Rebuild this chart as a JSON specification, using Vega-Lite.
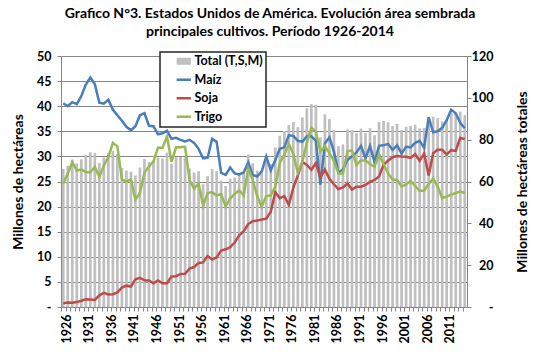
{
  "$schema": "https://vega.github.io/schema/vega-lite/v6.json",
  "width": 406,
  "height": 251,
  "autosize": {"type": "none"},
  "padding": {"left": 61, "top": 56, "right": 71, "bottom": 45},
  "background": "white",
  "config": {
    "font": "Lato",
    "view": {"stroke": null},
    "axis": {"labelColor": "black", "titleColor": "black", "labelFontWeight": "bold", "titleFontWeight": "bold", "domainColor": "#868686", "tickColor": "#868686", "gridColor": "#868686", "gridWidth": 1},
    "legend": {
      "orient": "none", "legendX": 99, "legendY": -4,
      "padding": 3, "symbolOffset": 14.5, "labelOffset": 4.5, "rowPadding": 5.5,
      "symbolSize": 121, "labelFontSize": 12.5, "labelFontWeight": "bold", "labelColor": "black",
      "fillColor": "white", "strokeColor": "#262626"
    }
  },
  "title": {
    "text": ["Grafico N°3. Estados Unidos de América. Evolución área sembrada", "principales cultivos. Período 1926-2014"],
    "font": "Lato", "fontSize": 14, "fontWeight": "bold", "color": "black",
    "anchor": "middle", "offset": 11, "dx": 6, "lineHeight": 18
  },
  "data": {"values": [
    {"year": 1926, "Maíz": 40.6, "Soja": 0.76, "Trigo": 24.6, "total": 66.0},
    {"year": 1927, "Maíz": 40.0, "Soja": 0.89, "Trigo": 26.6, "total": 67.5},
    {"year": 1928, "Maíz": 40.8, "Soja": 0.87, "Trigo": 28.8, "total": 70.5},
    {"year": 1929, "Maíz": 40.4, "Soja": 0.98, "Trigo": 27.2, "total": 68.6},
    {"year": 1930, "Maíz": 42.0, "Soja": 1.24, "Trigo": 27.4, "total": 70.6},
    {"year": 1931, "Maíz": 44.3, "Soja": 1.55, "Trigo": 26.9, "total": 72.8},
    {"year": 1932, "Maíz": 45.7, "Soja": 1.50, "Trigo": 26.8, "total": 74.0},
    {"year": 1933, "Maíz": 44.4, "Soja": 1.42, "Trigo": 27.9, "total": 73.7},
    {"year": 1934, "Maíz": 40.7, "Soja": 2.33, "Trigo": 25.9, "total": 68.9},
    {"year": 1935, "Maíz": 40.5, "Soja": 2.82, "Trigo": 28.2, "total": 71.5},
    {"year": 1936, "Maíz": 41.3, "Soja": 2.49, "Trigo": 29.9, "total": 73.7},
    {"year": 1937, "Maíz": 39.3, "Soja": 2.56, "Trigo": 32.7, "total": 74.6},
    {"year": 1938, "Maíz": 38.2, "Soja": 2.91, "Trigo": 32.0, "total": 73.1},
    {"year": 1939, "Maíz": 37.1, "Soja": 3.87, "Trigo": 25.4, "total": 66.4},
    {"year": 1940, "Maíz": 35.9, "Soja": 4.25, "Trigo": 25.0, "total": 65.2},
    {"year": 1941, "Maíz": 35.2, "Soja": 4.08, "Trigo": 25.4, "total": 64.7},
    {"year": 1942, "Maíz": 36.0, "Soja": 5.54, "Trigo": 21.4, "total": 62.9},
    {"year": 1943, "Maíz": 38.2, "Soja": 5.81, "Trigo": 22.7, "total": 66.7},
    {"year": 1944, "Maíz": 38.6, "Soja": 5.31, "Trigo": 26.8, "total": 70.7},
    {"year": 1945, "Maíz": 36.1, "Soja": 5.29, "Trigo": 28.0, "total": 69.4},
    {"year": 1946, "Maíz": 36.0, "Soja": 4.72, "Trigo": 29.0, "total": 69.7},
    {"year": 1947, "Maíz": 34.4, "Soja": 5.29, "Trigo": 31.7, "total": 71.4},
    {"year": 1948, "Maíz": 34.6, "Soja": 4.74, "Trigo": 31.7, "total": 71.0},
    {"year": 1949, "Maíz": 35.1, "Soja": 4.74, "Trigo": 34.0, "total": 73.8},
    {"year": 1950, "Maíz": 33.5, "Soja": 6.09, "Trigo": 28.9, "total": 68.5},
    {"year": 1951, "Maíz": 33.7, "Soja": 6.14, "Trigo": 31.8, "total": 71.6},
    {"year": 1952, "Maíz": 33.3, "Soja": 6.58, "Trigo": 31.8, "total": 71.7},
    {"year": 1953, "Maíz": 33.0, "Soja": 6.63, "Trigo": 31.9, "total": 71.5},
    {"year": 1954, "Maíz": 33.3, "Soja": 7.64, "Trigo": 25.3, "total": 66.2},
    {"year": 1955, "Maíz": 32.7, "Soja": 7.96, "Trigo": 23.6, "total": 64.3},
    {"year": 1956, "Maíz": 31.5, "Soja": 8.78, "Trigo": 24.6, "total": 64.9},
    {"year": 1957, "Maíz": 29.6, "Soja": 8.88, "Trigo": 20.2, "total": 58.7},
    {"year": 1958, "Maíz": 29.7, "Soja": 10.16, "Trigo": 22.7, "total": 62.6},
    {"year": 1959, "Maíz": 33.5, "Soja": 9.45, "Trigo": 22.9, "total": 65.9},
    {"year": 1960, "Maíz": 32.9, "Soja": 9.89, "Trigo": 22.2, "total": 65.0},
    {"year": 1961, "Maíz": 26.7, "Soja": 11.25, "Trigo": 22.5, "total": 60.5},
    {"year": 1962, "Maíz": 26.3, "Soja": 11.50, "Trigo": 20.0, "total": 57.8},
    {"year": 1963, "Maíz": 27.8, "Soja": 11.92, "Trigo": 21.6, "total": 61.3},
    {"year": 1964, "Maíz": 26.6, "Soja": 12.84, "Trigo": 22.5, "total": 61.9},
    {"year": 1965, "Maíz": 26.4, "Soja": 14.26, "Trigo": 23.2, "total": 63.9},
    {"year": 1966, "Maíz": 26.8, "Soja": 15.08, "Trigo": 22.2, "total": 64.1},
    {"year": 1967, "Maíz": 28.8, "Soja": 16.52, "Trigo": 27.6, "total": 72.9},
    {"year": 1968, "Maíz": 26.3, "Soja": 17.10, "Trigo": 25.3, "total": 68.7},
    {"year": 1969, "Maíz": 26.0, "Soja": 17.21, "Trigo": 22.0, "total": 65.2},
    {"year": 1970, "Maíz": 27.0, "Soja": 17.43, "Trigo": 20.0, "total": 64.4},
    {"year": 1971, "Maíz": 30.0, "Soja": 17.60, "Trigo": 22.1, "total": 69.7},
    {"year": 1972, "Maíz": 27.2, "Soja": 18.97, "Trigo": 22.2, "total": 68.4},
    {"year": 1973, "Maíz": 29.3, "Soja": 22.89, "Trigo": 24.0, "total": 76.2},
    {"year": 1974, "Maíz": 31.5, "Soja": 21.66, "Trigo": 28.7, "total": 81.9},
    {"year": 1975, "Maíz": 31.8, "Soja": 22.08, "Trigo": 30.3, "total": 84.2},
    {"year": 1976, "Maíz": 34.2, "Soja": 20.33, "Trigo": 32.5, "total": 87.0},
    {"year": 1977, "Maíz": 34.1, "Soja": 23.79, "Trigo": 30.5, "total": 88.4},
    {"year": 1978, "Maíz": 33.1, "Soja": 26.19, "Trigo": 26.7, "total": 86.0},
    {"year": 1979, "Maíz": 32.9, "Soja": 28.90, "Trigo": 28.9, "total": 90.7},
    {"year": 1980, "Maíz": 34.0, "Soja": 28.30, "Trigo": 32.7, "total": 95.0},
    {"year": 1981, "Maíz": 34.0, "Soja": 27.33, "Trigo": 35.7, "total": 97.0},
    {"year": 1982, "Maíz": 33.1, "Soja": 28.68, "Trigo": 34.9, "total": 96.7},
    {"year": 1983, "Maíz": 24.4, "Soja": 25.81, "Trigo": 30.9, "total": 81.1},
    {"year": 1984, "Maíz": 32.6, "Soja": 27.42, "Trigo": 32.1, "total": 92.1},
    {"year": 1985, "Maíz": 33.8, "Soja": 25.54, "Trigo": 30.6, "total": 89.9},
    {"year": 1986, "Maíz": 31.0, "Soja": 24.45, "Trigo": 29.1, "total": 84.6},
    {"year": 1987, "Maíz": 26.8, "Soja": 23.49, "Trigo": 26.6, "total": 76.9},
    {"year": 1988, "Maíz": 27.4, "Soja": 23.82, "Trigo": 26.5, "total": 77.7},
    {"year": 1989, "Maíz": 29.3, "Soja": 24.61, "Trigo": 31.0, "total": 84.9},
    {"year": 1990, "Maíz": 30.0, "Soja": 23.39, "Trigo": 31.2, "total": 84.6},
    {"year": 1991, "Maíz": 30.8, "Soja": 23.95, "Trigo": 28.3, "total": 83.1},
    {"year": 1992, "Maíz": 32.1, "Soja": 23.95, "Trigo": 29.2, "total": 85.3},
    {"year": 1993, "Maíz": 29.6, "Soja": 24.32, "Trigo": 29.2, "total": 83.1},
    {"year": 1994, "Maíz": 32.1, "Soja": 24.94, "Trigo": 28.5, "total": 85.5},
    {"year": 1995, "Maíz": 28.9, "Soja": 25.31, "Trigo": 27.9, "total": 82.1},
    {"year": 1996, "Maíz": 32.1, "Soja": 25.98, "Trigo": 30.4, "total": 88.5},
    {"year": 1997, "Maíz": 32.2, "Soja": 28.33, "Trigo": 28.5, "total": 89.0},
    {"year": 1998, "Maíz": 32.5, "Soja": 29.15, "Trigo": 26.6, "total": 88.3},
    {"year": 1999, "Maíz": 31.3, "Soja": 29.84, "Trigo": 25.4, "total": 86.5},
    {"year": 2000, "Maíz": 32.2, "Soja": 30.06, "Trigo": 25.3, "total": 87.6},
    {"year": 2001, "Maíz": 30.6, "Soja": 29.98, "Trigo": 24.0, "total": 84.6},
    {"year": 2002, "Maíz": 31.9, "Soja": 29.93, "Trigo": 24.4, "total": 86.2},
    {"year": 2003, "Maíz": 31.8, "Soja": 29.70, "Trigo": 25.1, "total": 86.6},
    {"year": 2004, "Maíz": 32.7, "Soja": 30.44, "Trigo": 24.1, "total": 87.2},
    {"year": 2005, "Maíz": 33.1, "Soja": 29.15, "Trigo": 23.1, "total": 85.4},
    {"year": 2006, "Maíz": 31.7, "Soja": 30.56, "Trigo": 23.2, "total": 85.5},
    {"year": 2007, "Maíz": 37.8, "Soja": 26.20, "Trigo": 24.5, "total": 88.5},
    {"year": 2008, "Maíz": 34.8, "Soja": 30.64, "Trigo": 25.6, "total": 91.0},
    {"year": 2009, "Maíz": 35.0, "Soja": 31.34, "Trigo": 24.0, "total": 90.3},
    {"year": 2010, "Maíz": 35.7, "Soja": 31.32, "Trigo": 21.7, "total": 88.7},
    {"year": 2011, "Maíz": 37.2, "Soja": 30.37, "Trigo": 22.0, "total": 89.6},
    {"year": 2012, "Maíz": 39.3, "Soja": 31.24, "Trigo": 22.4, "total": 92.9},
    {"year": 2013, "Maíz": 38.6, "Soja": 31.10, "Trigo": 22.7, "total": 92.4},
    {"year": 2014, "Maíz": 36.7, "Soja": 33.70, "Trigo": 23.0, "total": 93.4},
    {"year": 2015, "Maíz": 35.6, "Soja": 33.45, "Trigo": 22.7, "total": 91.8}
  ]},
  "encoding": {
    "x": {
      "field": "year", "type": "ordinal",
      "scale": {"paddingInner": 0.4, "paddingOuter": 0.2},
      "axis": {
        "title": null, "labelAngle": 270, "labelAlign": "right", "labelBaseline": "middle",
        "labelFontSize": 12.5, "labelPadding": 3, "labelOverlap": false,
        "labelExpr": "(datum.value - 1926) % 5 == 0 ? datum.label : ''",
        "bandPosition": 0, "labelOffset": 3.5, "tickSize": 4, "grid": false
      }
    }
  },
  "layer": [
    {
      "mark": {"type": "bar", "color": "#BFBFBF"},
      "encoding": {
        "y": {
          "field": "total", "type": "quantitative",
          "scale": {"domain": [0, 120], "nice": false},
          "axis": {
            "orient": "right", "title": "Millones de hectáreas totales", "titleFontSize": 14,
            "titleAngle": 270, "titleX": 55, "titleY": 125.5, "titleAlign": "center", "titleBaseline": "middle",
            "values": [0, 20, 40, 60, 80, 100, 120], "grid": false,
            "labelAlign": "right", "labelPadding": 22, "labelFontSize": 12.5, "tickSize": 4,
            "labelExpr": "datum.value == 0 ? '-' : datum.label",
            "encode": {"labels": {"update": {"dx": {"signal": "datum.value == 0 ? -5 : 0"}}}}
          }
        },
        "color": {
          "datum": "Total (T,S,M)", "type": "nominal",
          "scale": {"domain": ["Total (T,S,M)", "Maíz", "Soja", "Trigo"], "range": ["#BFBFBF", "#4A7EBB", "#BE4B48", "#98B954"]},
          "legend": {
            "title": null,
            "encode": {
              "legend": {"update": {"strokeWidth": {"value": 1.5}}},
              "symbols": {"update": {
                "shape": {"signal": "datum.value == 'Total (T,S,M)' ? 'M-1.3,-0.64H1.3V0.64H-1.3Z' : 'M-1.3,-0.23H1.3V0.23H-1.3Z'"},
                "fill": {"scale": "color", "field": "value"},
                "stroke": {"value": "transparent"},
                "strokeWidth": {"value": 0},
                "opacity": {"value": 1}
              }}
            }
          }
        }
      }
    },
    {
      "transform": [{"fold": ["Maíz", "Soja", "Trigo"], "as": ["serie", "area"]}],
      "mark": {"type": "line", "strokeWidth": 2.5},
      "encoding": {
        "y": {
          "field": "area", "type": "quantitative",
          "scale": {"domain": [0, 50], "nice": false},
          "axis": {
            "orient": "left", "title": "Millones de hectáreas", "titleFontSize": 14,
            "titleAngle": 270, "titleX": -43, "titleY": 125.5, "titleAlign": "center", "titleBaseline": "middle",
            "values": [0, 5, 10, 15, 20, 25, 30, 35, 40, 45, 50], "grid": true,
            "labelPadding": 6, "labelFontSize": 12.5, "tickSize": 4,
            "labelExpr": "datum.value == 0 ? '-' : datum.label",
            "encode": {"labels": {"update": {"dx": {"signal": "datum.value == 0 ? -10 : 0"}}}}
          }
        },
        "color": {"field": "serie", "type": "nominal", "legend": {"title": null}}
      }
    }
  ],
  "resolve": {"scale": {"y": "independent"}}
}
